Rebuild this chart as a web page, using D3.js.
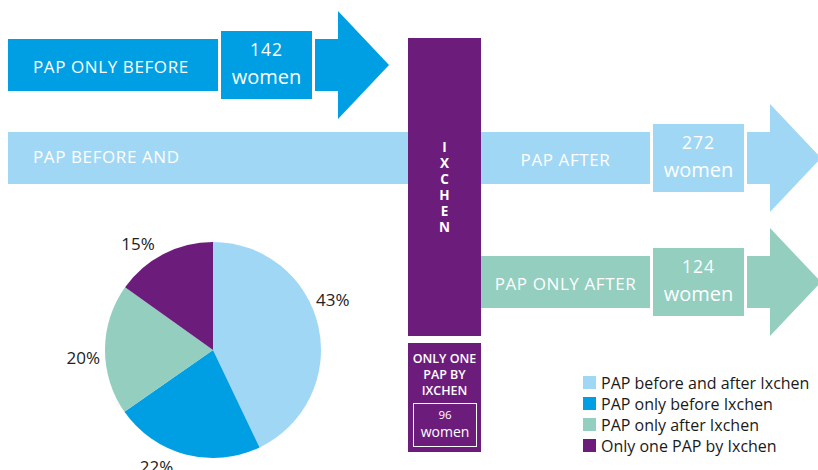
<!DOCTYPE html>
<html>
<head>
<meta charset="utf-8">
<script src="https://cdn.jsdelivr.net/npm/d3@7"></script>
<style>
  body { margin: 0; background: #fff; }
  svg { display: block; font-family: "Open Sans", "Noto Sans", sans-serif; }
</style>
</head>
<body>
<div id="chart"></div>
<script>
// ---- data ----
const groups = ["PAP before and after Ixchen", "PAP only before Ixchen", "PAP only after Ixchen", "Only one PAP by Ixchen"];
const counts = [272, 142, 124, 96];
const colors = ["#a0d7f4", "#009fe3", "#93cebf", "#6c1d7c"];

const width = 818;
const height = 470;

const svg = d3.select("#chart").append("svg")
    .attr("width", width)
    .attr("height", height);

/********************** flow arrows *****************************/
// each row: bar (left part), count box, arrow head
const rows = [
    { label: "PAP ONLY BEFORE", idx: 1, x0: 8, barEnd: 218, yTop: 39, count: counts[1] },
    { label: "PAP AFTER", idx: 0, x0: 481, barEnd: 650, yTop: 132, count: counts[0] },
    { label: "PAP ONLY AFTER", idx: 2, x0: 481, barEnd: 650, yTop: 256, count: counts[2] }
];
const barH = 52;

function arrowPath(r) {
    const bx = r.barEnd + 97;      // start of arrow stem after the box
    const tx = bx + 23;            // start of the triangle
    const top = r.yTop, bot = r.yTop + barH, mid = r.yTop + barH / 2;
    return `M${bx},${top} L${tx},${top} L${tx},${mid - 54} L${tx + 51},${mid} L${tx},${mid + 54} L${tx},${bot} L${bx},${bot} Z`;
}

// the long light-blue bar behind the Ixchen column
svg.append("rect")
    .attr("x", 8).attr("y", 132)
    .attr("width", 420).attr("height", barH)
    .attr("fill", colors[0]);
svg.append("text")
    .attr("x", 33).attr("y", 163)
    .attr("fill", "#fff")
    .attr("font-size", 17)
    .attr("letter-spacing", 0.6)
    .text("PAP BEFORE AND");

const rowG = svg.selectAll(".row")
    .data(rows)
    .join("g")
    .attr("class", "row");

rowG.append("rect")
    .attr("x", d => d.x0)
    .attr("y", d => d.yTop)
    .attr("width", d => d.barEnd - d.x0)
    .attr("height", barH)
    .attr("fill", d => colors[d.idx]);

rowG.append("rect")
    .attr("x", d => d.barEnd + 3)
    .attr("y", d => d.yTop - 8)
    .attr("width", 91)
    .attr("height", barH + 16)
    .attr("fill", d => colors[d.idx]);

rowG.append("path")
    .attr("d", arrowPath)
    .attr("fill", d => colors[d.idx]);

rowG.append("text")
    .attr("x", d => d.idx === 1 ? 33 : (d.x0 + d.barEnd) / 2)
    .attr("text-anchor", d => d.idx === 1 ? "start" : "middle")
    .attr("y", d => d.yTop + 34)
    .attr("fill", "#fff")
    .attr("font-size", 17)
    .attr("letter-spacing", 0.6)
    .text(d => d.label);

rowG.append("text")
    .attr("x", d => d.barEnd + 48.5)
    .attr("y", d => d.yTop + 17)
    .attr("text-anchor", "middle")
    .attr("fill", "#fff")
    .attr("font-size", 17.5)
    .attr("letter-spacing", 1)
    .text(d => d.count);

rowG.append("text")
    .attr("x", d => d.barEnd + 48.5)
    .attr("y", d => d.yTop + 45)
    .attr("text-anchor", "middle")
    .attr("fill", "#fff")
    .attr("font-size", 20)
    .text("women");

/********************** Ixchen column *****************************/
svg.append("rect")
    .attr("x", 408).attr("y", 38)
    .attr("width", 73).attr("height", 298)
    .attr("fill", colors[3]);

svg.selectAll(".ixletter")
    .data("IXCHEN".split(""))
    .join("text")
    .attr("class", "ixletter")
    .attr("x", 444.5)
    .attr("y", (d, i) => 152 + i * 16)
    .attr("text-anchor", "middle")
    .attr("fill", "#fff")
    .attr("font-size", 13.5)
    .attr("font-weight", 700)
    .text(d => d);

svg.append("rect")
    .attr("x", 408).attr("y", 343)
    .attr("width", 73).attr("height", 109)
    .attr("fill", colors[3]);

svg.selectAll(".onlyone")
    .data(["ONLY ONE", "PAP BY", "IXCHEN"])
    .join("text")
    .attr("class", "onlyone")
    .attr("x", 444.5)
    .attr("y", (d, i) => 363 + i * 16)
    .attr("text-anchor", "middle")
    .attr("fill", "#fff")
    .attr("font-size", 12.5)
    .attr("font-weight", 600)
    .text(d => d);

svg.append("rect")
    .attr("x", 413.5).attr("y", 403.5)
    .attr("width", 63).attr("height", 43)
    .attr("fill", "none")
    .attr("stroke", "#fff")
    .attr("stroke-width", 1);

svg.append("text")
    .attr("x", 445).attr("y", 419)
    .attr("text-anchor", "middle")
    .attr("fill", "#fff")
    .attr("font-size", 11.5)
    .text(counts[3]);
svg.append("text")
    .attr("x", 445).attr("y", 437)
    .attr("text-anchor", "middle")
    .attr("fill", "#fff")
    .attr("font-size", 14)
    .text("women");

/********************** pie *****************************/
const total = d3.sum(counts);
const pieData = groups.map((g, i) => ({ name: g, value: counts[i], color: colors[i] }));
const pie = d3.pie().sort(null).value(d => d.value);
const arcs = pie(pieData);
const arc = d3.arc().innerRadius(0).outerRadius(108);

// labels sit outside the pie, shifted a little from the slice middle (degrees)
const labelRadius = 130;
const labelShift = [-10, 11, -4, -8];
function labelPos(d, i) {
    const a = (d.startAngle + d.endAngle) / 2 + labelShift[i] * Math.PI / 180;
    return [Math.sin(a) * labelRadius, -Math.cos(a) * labelRadius];
}

const pieG = svg.append("g").attr("transform", "translate(213,350)");

pieG.selectAll("path")
    .data(arcs)
    .join("path")
    .attr("d", arc)
    .attr("fill", d => d.data.color);

pieG.selectAll(".plabel")
    .data(arcs)
    .join("text")
    .attr("class", "plabel")
    .attr("transform", (d, i) => `translate(${labelPos(d, i)})`)
    .attr("text-anchor", "middle")
    .attr("dy", "0.35em")
    .attr("fill", "#222")
    .attr("font-size", 17)
    .text(d => Math.round(d.data.value / total * 100) + "%");

/********************** legend *****************************/
const legend = svg.selectAll(".legend")
    .data(pieData)
    .join("g")
    .attr("class", "legend")
    .attr("transform", (d, i) => `translate(583,${376 + i * 21})`);

legend.append("rect")
    .attr("width", 13).attr("height", 13)
    .attr("fill", d => d.color);

legend.append("text")
    .attr("x", 18).attr("y", 12.5)
    .attr("fill", "#1a1a1a")
    .attr("font-size", 16)
    .text(d => d.name);
</script>
</body>
</html>
